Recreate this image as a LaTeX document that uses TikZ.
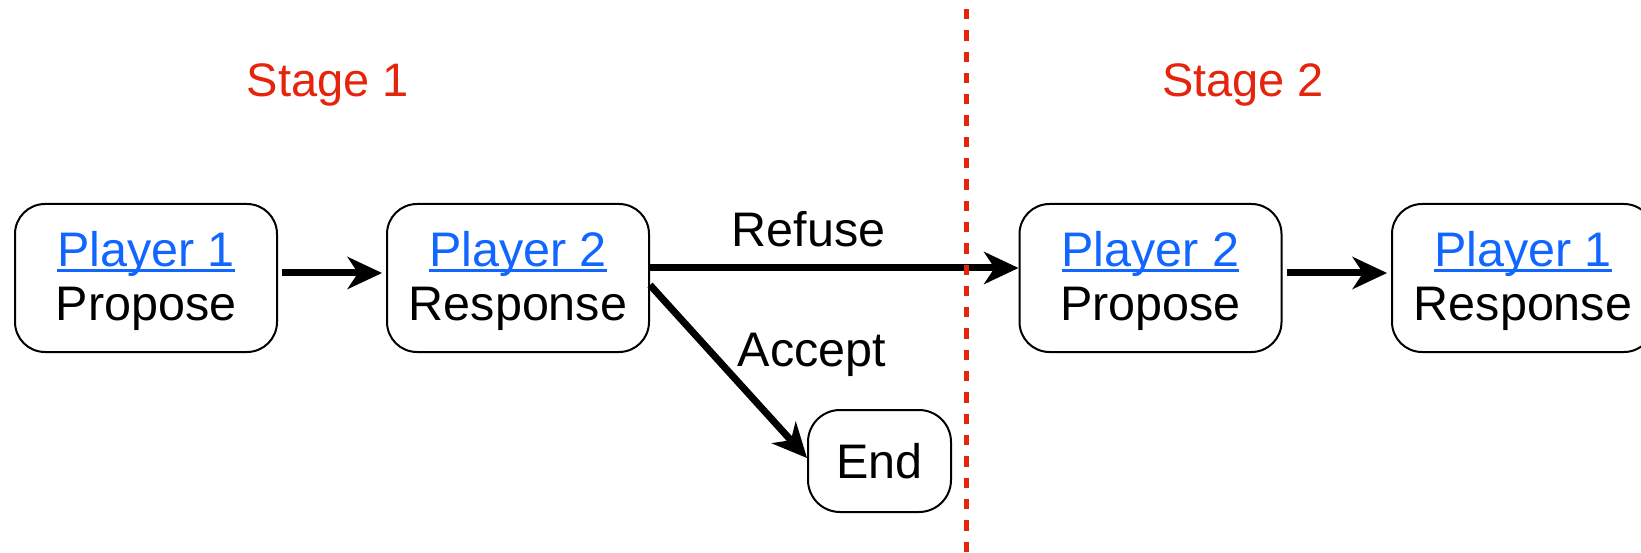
\documentclass[tikz,border=0pt]{standalone}
\usepackage{fontspec}
\setmainfont{Liberation Sans}
\usetikzlibrary{arrows.meta}
\definecolor{linkblue}{RGB}{17,102,255}
\definecolor{stagered}{RGB}{230,36,12}
\newcommand\plink[1]{\rule{0pt}{41.5pt}\textcolor{linkblue}{\setbox0\hbox{#1}\rlap{\rule[-5.5pt]{\wd0}{3pt}}\box0}}
\begin{document}
\begin{tikzpicture}[x=1pt,y=-1pt,
  txt/.style={font=\fontsize{48.5}{54}\selectfont, inner sep=0pt},
  box/.style={txt, draw, line width=2pt, rounded corners=30pt, minimum width=262pt, minimum height=148pt, align=center},
  endbox/.style={txt, draw, line width=2pt, rounded corners=32pt, minimum width=143pt, minimum height=102pt},
  stage/.style={font=\fontsize{47}{54}\selectfont, inner sep=0pt, text=stagered},
  arr/.style={line width=7pt, -{Stealth[length=35pt,width=33pt,inset=11pt,line width=0pt]}},
  divider/.style={stagered, line width=5pt, dash pattern=on 10.3pt off 11pt}]
\useasboundingbox (0,0) rectangle (1641,553);
\clip (0,0) rectangle (1641,553);
\fill[white] (0,0) rectangle (1641,553);

\node[box] (b1) at (146,278) {\plink{Player 1}\\Propose};
\node[box] (b2) at (518,278) {\plink{Player 2}\\Response};
\node[box] (b3) at (1150.5,278) {\plink{Player 2}\\Propose};
\node[box] (b4) at (1523,278) {\plink{Player 1}\\Response};
\node[endbox] (e) at (879.5,461) {End};

\node[stage, anchor=base] (s1) at (328,97) {Stage 1};
\node[stage, anchor=base] (s2) at (1243,97) {Stage 2};

\draw[arr] ([xshift=4pt,yshift=5pt]b1.east) -- ([xshift=-4pt,yshift=5pt]b2.west);
\draw[arr] ([yshift=10pt]b2.east) -- ([yshift=10pt]b3.west)
  node[txt, pos=0.43, above=21pt, anchor=base] (lr) {Refuse};
\draw[arr] ([xshift=4pt,yshift=5pt]b3.east) -- ([xshift=-4pt,yshift=5pt]b4.west);
\draw[arr] ([yshift=-7pt]b2.east) -- ([yshift=3pt]e.west);
\node[txt, anchor=base] (la) at (812,366) {Accept};

\coordinate (dtop) at (966.5,9);
\coordinate (dbot) at (966.5,553);
\draw[divider] (dtop) -- (dbot);
\end{tikzpicture}
\end{document}
